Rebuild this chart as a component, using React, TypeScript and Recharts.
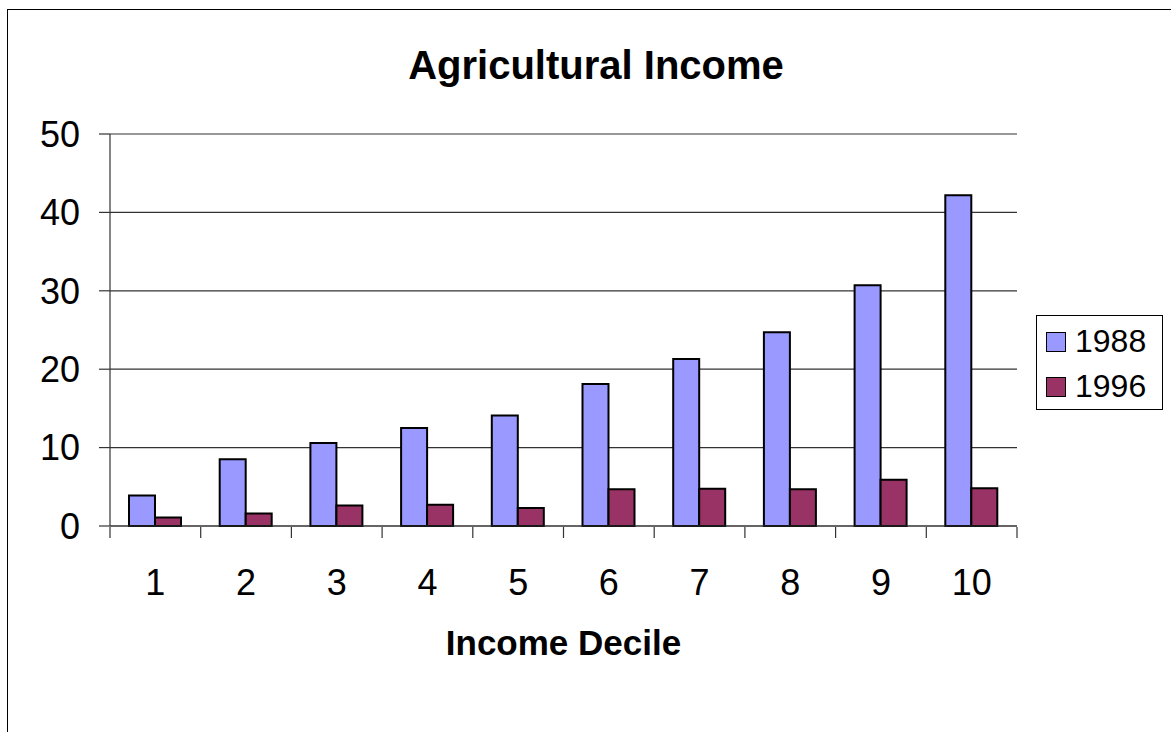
import {
  Bar,
  BarChart,
  CartesianGrid,
  Legend,
  XAxis,
  YAxis,
} from "recharts";

const deciles = ["1", "2", "3", "4", "5", "6", "7", "8", "9", "10"];
const income1988 = [3.9, 8.5, 10.6, 12.5, 14.1, 18.1, 21.3, 24.7, 30.7, 42.2];
const income1996 = [1.1, 1.6, 2.6, 2.7, 2.3, 4.7, 4.75, 4.7, 5.9, 4.8];
const yTicks = [0, 10, 20, 30, 40, 50];
const edgeTicks = [0, 1, 2, 3, 4, 5, 6, 7, 8, 9, 10];

// pos = middle of each decile on the 0..10 boundary scale
const data = deciles.map((d, i) => ({
  decile: d,
  pos: i + 0.5,
  "1988": income1988[i],
  "1996": income1996[i],
}));

const FONT = '"Liberation Sans", Arial, sans-serif';

function LegendBox({ payload }: any) {
  return (
    <div
      style={{
        border: "1px solid #000",
        background: "#fff",
        padding: "3px 16px 0 9px",
        fontFamily: FONT,
        fontSize: 32,
        color: "#000",
      }}
    >
      {(payload || []).map((p: any) => (
        <div
          key={p.value}
          style={{ display: "flex", alignItems: "center", height: 45 }}
        >
          <span
            style={{
              display: "inline-block",
              width: 18,
              height: 18,
              background: p.color,
              border: "1px solid #000",
              marginRight: 9,
            }}
          />
          <span>{p.value}</span>
        </div>
      ))}
    </div>
  );
}

// tick marks only, no labels
const EmptyTick = () => <g />;

export default function App() {
  return (
    <div
      style={{
        position: "absolute",
        left: 0,
        top: 0,
        width: 1171,
        height: 732,
        overflow: "hidden",
        background: "#fff",
        fontFamily: FONT,
      }}
    >
      <div
        style={{
          position: "absolute",
          left: 7,
          top: 9,
          width: 1200,
          height: 800,
          border: "1px solid #000",
        }}
      />
      <div
        style={{
          position: "absolute",
          left: 0,
          top: 43,
          width: 1192,
          textAlign: "center",
          fontSize: 40,
          fontWeight: "bold",
          color: "#000",
        }}
      >
        Agricultural Income
      </div>
      <div
        style={{
          position: "absolute",
          left: 0,
          top: 623,
          width: 1127,
          textAlign: "center",
          fontSize: 35,
          fontWeight: "bold",
          color: "#000",
        }}
      >
        Income Decile
      </div>
      <div style={{ position: "absolute", left: 0, top: 0 }}>
        <BarChart
          width={1171}
          height={732}
          data={data}
          margin={{ top: 134, right: 154, bottom: 145, left: 0 }}
          barGap={0}
        >
          <CartesianGrid
            xAxisId="cat"
            vertical={false}
            stroke="#333"
            strokeWidth={1.2}
          />
          <XAxis
            xAxisId="cat"
            dataKey="decile"
            axisLine={{ stroke: "#333", strokeWidth: 1.2 }}
            tickLine={false}
            tickSize={0}
            tickMargin={43}
            height={1}
            interval={0}
            tick={{ fill: "#000", fontSize: 36, fontFamily: FONT }}
          />
          {/* boundary ticks between deciles */}
          <XAxis
            xAxisId="edges"
            type="number"
            dataKey="pos"
            domain={[0, deciles.length]}
            allowDataOverflow
            ticks={edgeTicks}
            interval={0}
            tick={EmptyTick}
            axisLine={false}
            tickLine={{ stroke: "#333", strokeWidth: 1.2 }}
            tickSize={11}
            height={60}
          />
          <YAxis
            domain={[0, 50]}
            ticks={yTicks}
            width={110}
            tickSize={11}
            tickMargin={19}
            axisLine={{ stroke: "#333", strokeWidth: 1.2 }}
            tickLine={{ stroke: "#333", strokeWidth: 1.2 }}
            tick={{ fill: "#000", fontSize: 36, fontFamily: FONT }}
          />
          <YAxis
            yAxisId="right"
            orientation="right"
            domain={[0, 50]}
            width={0}
            tick={false}
            tickLine={false}
            axisLine={{ stroke: "#999", strokeWidth: 1.5 }}
          />
          <Legend
            layout="vertical"
            align="center"
            verticalAlign="middle"
            content={<LegendBox />}
            wrapperStyle={{ left: 1036, top: 315, width: "auto" }}
          />
          <Bar
            xAxisId="cat"
            dataKey="1988"
            fill="#9999ff"
            stroke="#000"
            strokeWidth={2}
            barSize={26}
            isAnimationActive={false}
          />
          <Bar
            xAxisId="cat"
            dataKey="1996"
            fill="#993366"
            stroke="#000"
            strokeWidth={2}
            barSize={26}
            isAnimationActive={false}
          />
        </BarChart>
      </div>
    </div>
  );
}
